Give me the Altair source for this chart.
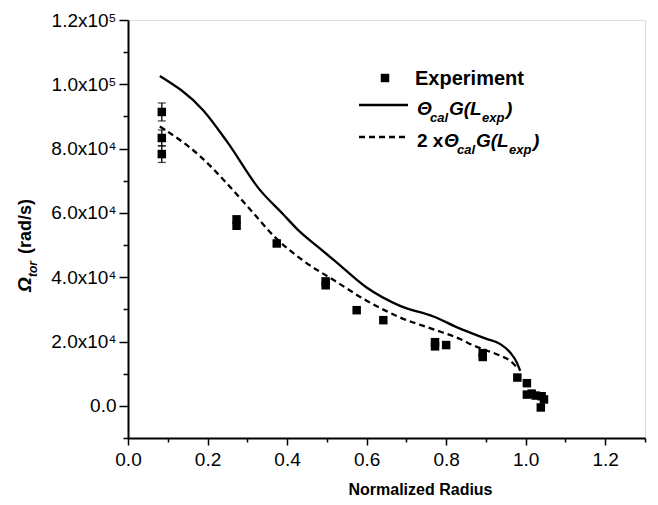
import altair as alt
import pandas as pd

# ---------------- data ----------------
exp_x = [0.085, 0.085, 0.085, 0.273, 0.273, 0.374, 0.497, 0.497, 0.575, 0.642,
         0.772, 0.772, 0.800, 0.892, 0.892, 0.979, 1.003, 1.003, 1.015, 1.025,
         1.040, 1.046, 1.038]
exp_y = [91400, 83300, 78300, 58000, 56000, 50500, 38700, 37500, 29750, 26650,
         19800, 18500, 18900, 16400, 15200, 8800, 7050, 3500, 3800, 3200,
         3000, 2000, -500]

err_x = [0.085, 0.085, 0.085]
err_y = [91400, 83300, 78300]
err_d = [2800, 2500, 2600]

solid_x = [0.08, 0.19, 0.25, 0.33, 0.39, 0.43, 0.48, 0.52, 0.60, 0.684, 0.768,
           0.835, 0.87, 0.90, 0.936, 0.961, 0.978, 0.986]
solid_y = [102600, 91800, 82000, 67400, 59600, 54400, 49200, 45100, 36800, 31100,
           27800, 24000, 22300, 20900, 19200, 16600, 13400, 10900]

dashed_x = [0.08, 0.18, 0.25, 0.31, 0.37, 0.44, 0.52, 0.60, 0.684, 0.768, 0.835,
            0.87, 0.90, 0.936, 0.961, 0.982]
dashed_y = [86900, 77800, 69000, 60700, 52400, 45200, 38900, 32700, 27500, 23800,
            20800, 18700, 17300, 15600, 14000, 11400]

x_major = [0.0, 0.2, 0.4, 0.6, 0.8, 1.0, 1.2]
x_minor = [0.1, 0.3, 0.5, 0.7, 0.9, 1.1, 1.3]
y_major = [0, 20000, 40000, 60000, 80000, 100000, 120000]
y_minor = [-10000, 10000, 30000, 50000, 70000, 90000, 110000]

x_title = "Normalized Radius"
legend_exp = "Experiment"

# ---------------- styling ----------------
FONT = "Liberation Sans"
W, H = 517, 418

xs = alt.Scale(domain=[0, 1.3], nice=False, zero=False)
ys = alt.Scale(domain=[-10000, 120000], nice=False, zero=False)

x_axis = alt.Axis(values=x_major, format=".1f", tickSize=7, tickWidth=1.5,
                  tickColor="black", domainColor="black", domainWidth=2,
                  labelFont=FONT, labelFontSize=19, labelColor="black",
                  labelPadding=5, labelFlush=False, grid=False, orient="bottom",
                  title=x_title, titleFont=FONT, titleFontSize=16,
                  titleFontWeight="bold", titleColor="black", titleX=292,
                  titleY=56, titleBaseline="alphabetic", titleAlign="center")

y_label_expr = ("datum.value == 0 ? '0.0' : (datum.value >= 100000 ? "
                "format(datum.value/100000, '.1f') + 'x10\u2075' : "
                "format(datum.value/10000, '.1f') + 'x10\u2074')")

y_axis = alt.Axis(values=y_major, labelExpr=y_label_expr, tickSize=9,
                  tickWidth=1.5, tickColor="black", domainColor="black",
                  domainWidth=2, labelFont=FONT, labelFontSize=19,
                  labelColor="black", labelPadding=3, labelFlush=False,
                  grid=False, orient="left", title=None)

x_axis_minor = alt.Axis(values=x_minor, tickSize=4, tickWidth=1.5,
                        tickColor="black", labels=False, domain=False,
                        grid=False, orient="bottom", title=None)
y_axis_minor = alt.Axis(values=y_minor, tickSize=5, tickWidth=1.5,
                        tickColor="black", labels=False, domain=False,
                        grid=False, orient="left", title=None)

pts = pd.DataFrame({"x": exp_x, "y": exp_y})
errs = pd.DataFrame({"ex": err_x, "ey": err_y, "d": err_d})
errs["lo"] = errs["ey"] - errs["d"]
errs["hi"] = errs["ey"] + errs["d"]
solid = pd.DataFrame({"x": solid_x, "y": solid_y})
dashed = pd.DataFrame({"x": dashed_x, "y": dashed_y})
one = pd.DataFrame({"k": [0]})

X = alt.X("x:Q", scale=xs, axis=x_axis)
Y = alt.Y("y:Q", scale=ys, axis=y_axis)
EX = alt.X("ex:Q", scale=xs, axis=x_axis)

line_solid = alt.Chart(solid).mark_line(color="black", strokeWidth=2.3,
                                        interpolate="monotone").encode(x=X, y=Y)
line_dashed = alt.Chart(dashed).mark_line(color="black", strokeWidth=2.3,
                                          strokeDash=[6, 4],
                                          interpolate="monotone").encode(x=X, y=Y)

err_rule = alt.Chart(errs).mark_rule(color="black", strokeWidth=1.3).encode(
    x=EX, y=alt.Y("lo:Q", scale=ys, axis=y_axis), y2="hi:Q")
cap_lo = alt.Chart(errs).mark_tick(color="black", orient="horizontal", size=8,
                                   thickness=1.3).encode(
    x=EX, y=alt.Y("lo:Q", scale=ys, axis=y_axis))
cap_hi = alt.Chart(errs).mark_tick(color="black", orient="horizontal", size=8,
                                   thickness=1.3).encode(
    x=EX, y=alt.Y("hi:Q", scale=ys, axis=y_axis))

squares = alt.Chart(pts).mark_square(size=72, color="black", opacity=1).encode(
    x=X, y=Y)

# ---------------- hand-built legend and y title (layout text) ----------------
def txt(s, x, y, size=19, weight="bold", style="normal", angle=0):
    return alt.Chart(one).mark_text(text=s, font=FONT, color="black",
                                    align="left", baseline="alphabetic",
                                    fontSize=size, fontWeight=weight,
                                    fontStyle=style, angle=angle).encode(
        x=alt.value(x), y=alt.value(y))

texts = [
    txt(legend_exp, 287, 65, size=20),
    # row 1: Theta_cal G(L_exp)
    txt("\u0398", 289, 95, style="italic"),
    txt("cal", 302, 102, size=13, style="italic"),
    txt("G(L", 321, 95, style="italic"),
    txt("exp", 354, 102, size=13, style="italic"),
    txt(")", 378, 95, style="italic"),
    # row 2: 2 x Theta_cal G(L_exp)
    txt("2 x", 289, 127),
    txt("\u0398", 316, 127, style="italic"),
    txt("cal", 329, 134, size=13, style="italic"),
    txt("G(L", 348, 127, style="italic"),
    txt("exp", 381, 134, size=13, style="italic"),
    txt(")", 405, 127, style="italic"),
    # y title: Omega_tor (rad/s), rotated
    txt("\u03a9", -97, 272, style="italic", angle=270),
    txt("tor", -91, 257, size=12, style="italic", angle=270),
    txt("(rad/s)", -97, 234, size=18, angle=270),
]

leg_sym = alt.Chart(one).mark_square(size=72, color="black", opacity=1).encode(
    x=alt.value(257), y=alt.value(58))
leg_solid = alt.Chart(one).mark_rule(color="black", strokeWidth=2.3).encode(
    x=alt.value(231), x2=alt.value(280), y=alt.value(85))
leg_dashed = alt.Chart(one).mark_rule(color="black", strokeWidth=2.3,
                                      strokeDash=[6, 4]).encode(
    x=alt.value(231), x2=alt.value(280), y=alt.value(117))

main = alt.layer(line_solid, line_dashed, err_rule, cap_lo, cap_hi, squares)

minor = alt.Chart(pts).mark_point(opacity=0).encode(
    x=alt.X("x:Q", scale=xs, axis=x_axis_minor),
    y=alt.Y("y:Q", scale=ys, axis=y_axis_minor))

chart = alt.layer(main, minor, leg_sym, leg_solid, leg_dashed, *texts).resolve_scale(
    x="independent", y="independent").properties(
    width=W, height=H,
    padding={"left": 120, "top": 12, "right": 5, "bottom": 59},
    autosize=alt.AutoSizeParams(type="none"),
).configure_view(strokeOpacity=0).configure(background="white")

chart.save("out.html", embed_options={"renderer": "svg", "actions": False})
